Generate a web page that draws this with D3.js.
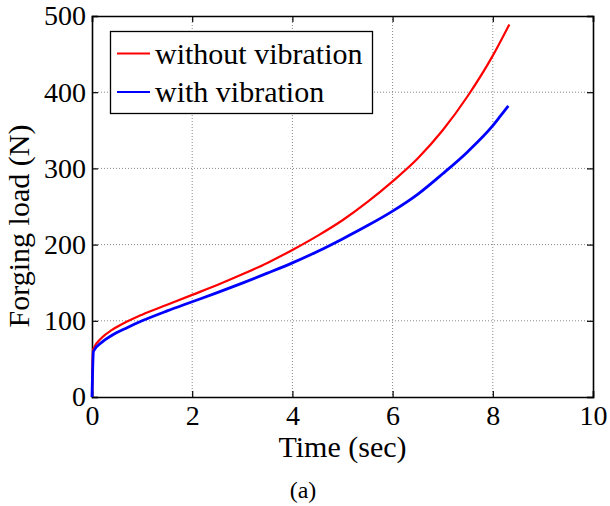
<!DOCTYPE html>
<html>
<head>
<meta charset="utf-8">
<script src="https://cdn.jsdelivr.net/npm/d3@7"></script>
<style>
  body { margin: 0; background: #fff; }
  text { font-family: "Liberation Serif", "Times New Roman", serif; fill: #000; }
</style>
</head>
<body>
<svg id="chart" width="610" height="506"></svg>
<script>
// time (sec) and forging load (N)
var timeRed = [0, 0.02, 0.2, 0.4, 0.7, 1.0, 1.5, 2.0, 2.5, 3.0, 3.5, 4.0, 4.5, 5.0, 5.5, 6.0, 6.5, 7.0, 7.5, 8.0, 8.33]
var loadRed = [0, 62, 78, 88, 99, 108, 121, 134, 147, 161, 176, 193, 211.5, 232, 256, 283, 313, 350, 395, 448, 489]

var timeBlue = [0, 0.03, 0.2, 0.4, 0.7, 1.0, 1.5, 2.0, 2.5, 3.0, 3.5, 4.0, 4.5, 5.0, 5.5, 6.0, 6.5, 7.0, 7.5, 8.0, 8.15, 8.31]
var loadBlue = [0, 60, 72, 81, 91, 100, 113, 125, 137, 149.5, 162.5, 176, 191, 207.5, 225, 244, 266, 293, 322, 356, 368.5, 382]

var xTicks = [0, 2, 4, 6, 8, 10]
var yTicks = [0, 100, 200, 300, 400, 500]
var legendNames = ["without vibration", "with vibration"]
var colors = ["#ff0000", "#0000ff"]

drawChart()

function drawChart() {
	var pLeft = 92, pRight = 593, pTop = 16, pBottom = 397

	var x = d3.scaleLinear().domain([0, 10]).range([pLeft, pRight])
	var y = d3.scaleLinear().domain([0, 500]).range([pBottom, pTop])

	var svg = d3.select("#chart")

	// grid
	svg.append("g").selectAll("line")
		.data(xTicks.slice(1, -1))
		.enter().append("line")
		.attr("x1", d => x(d)).attr("x2", d => x(d))
		.attr("y1", pTop).attr("y2", pBottom)
		.attr("stroke", "#888").attr("stroke-width", 1).attr("stroke-dasharray", "1,2")

	svg.append("g").selectAll("line")
		.data(yTicks.slice(1, -1))
		.enter().append("line")
		.attr("y1", d => y(d)).attr("y2", d => y(d))
		.attr("x1", pLeft).attr("x2", pRight)
		.attr("stroke", "#888").attr("stroke-width", 1).attr("stroke-dasharray", "1,2")

	// axes, ticks inward, box on
	var xAxis = svg.append("g").attr("transform", "translate(0," + pBottom + ")")
		.call(d3.axisBottom(x).tickValues(xTicks).tickSize(-6).tickPadding(8))
	var yAxis = svg.append("g").attr("transform", "translate(" + pLeft + ",0)")
		.call(d3.axisLeft(y).tickValues(yTicks).tickSize(-6).tickPadding(6))
	svg.append("g").attr("transform", "translate(0," + pTop + ")")
		.call(d3.axisTop(x).tickValues(xTicks).tickSize(-6).tickFormat(""))
	svg.append("g").attr("transform", "translate(" + pRight + ",0)")
		.call(d3.axisRight(y).tickValues(yTicks).tickSize(-6).tickFormat(""))

	svg.selectAll(".domain").attr("stroke", "#000").attr("stroke-width", 1.6)
	svg.selectAll(".tick line").attr("stroke", "#000").attr("stroke-width", 1.2)
	svg.selectAll(".tick text").style("font-family", "Liberation Serif").style("font-size", "28px").attr("fill", "#000")
	xAxis.selectAll(".tick text").attr("dy", "0.71em")

	// curves
	var line = d3.line().x(d => x(d[0])).y(d => y(d[1])).curve(d3.curveMonotoneX)
	var redData = timeRed.map((t, i) => [t, loadRed[i]])
	var blueData = timeBlue.map((t, i) => [t, loadBlue[i]])

	svg.append("path").datum(redData)
		.attr("d", line).attr("fill", "none")
		.attr("stroke", colors[0]).attr("stroke-width", 2.2)
	svg.append("path").datum(blueData)
		.attr("d", line).attr("fill", "none")
		.attr("stroke", colors[1]).attr("stroke-width", 2.8)

	// legend
	var lg = svg.append("g")
	lg.append("rect")
		.attr("x", 110.5).attr("y", 31.5).attr("width", 262).attr("height", 82)
		.attr("fill", "#fff").attr("stroke", "#000").attr("stroke-width", 1.3)
	lg.selectAll("line.leg")
		.data(legendNames)
		.enter().append("line")
		.attr("x1", 117).attr("x2", 150)
		.attr("y1", (d, i) => 53.5 + i * 38.5).attr("y2", (d, i) => 53.5 + i * 38.5)
		.attr("stroke", (d, i) => colors[i]).attr("stroke-width", 2)
	lg.selectAll("text")
		.data(legendNames)
		.enter().append("text")
		.attr("x", 155)
		.attr("y", (d, i) => 63.5 + i * 38.5)
		.style("font-size", "30px")
		.text(d => d)

	// axis labels
	svg.append("text")
		.attr("x", (pLeft + pRight) / 2).attr("y", 457)
		.style("text-anchor", "middle").style("font-size", "30px")
		.text("Time (sec)")
	svg.append("text")
		.attr("transform", "translate(29,226) rotate(-90)")
		.style("text-anchor", "middle").style("font-size", "30px")
		.text("Forging load (N)")

	svg.append("text")
		.attr("x", 303).attr("y", 498)
		.style("text-anchor", "middle").style("font-size", "24px")
		.text("(a)")
}
</script>
</body>
</html>
